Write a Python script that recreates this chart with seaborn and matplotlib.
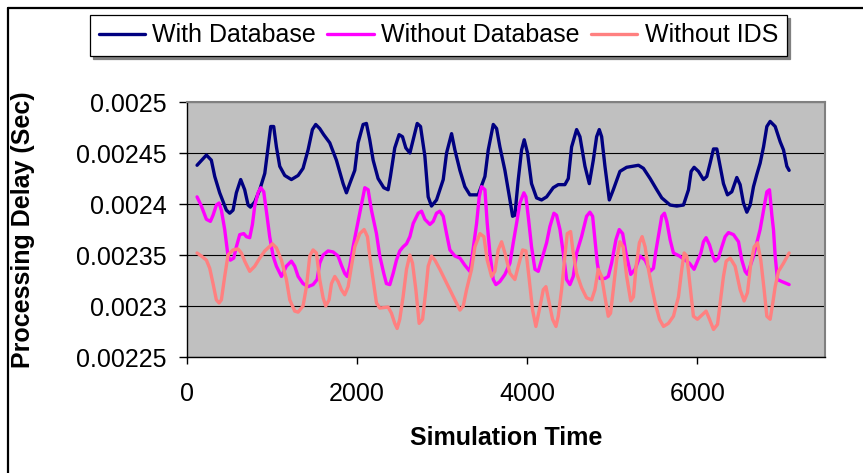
import numpy as np
import pandas as pd
import matplotlib
matplotlib.use('Agg')
import matplotlib.pyplot as plt
import matplotlib.transforms as mtransforms
from matplotlib.lines import Line2D
import seaborn as sns

# input data
with_db_time = [118, 228, 286, 326, 384, 463, 502, 541, 580, 631, 678, 718, 745, 796, 855, 914, 953, 984, 1019, 1051,
                1090, 1149, 1227, 1306, 1364, 1423, 1474, 1513, 1560, 1607, 1678, 1756, 1835, 1874, 1913, 1972, 2011, 2070, 2109, 2148,
                2188, 2246, 2313, 2364, 2391, 2442, 2493, 2533, 2572, 2620, 2706, 2745, 2796, 2835, 2874, 2933, 3012, 3051, 3110, 3149,
                3208, 3266, 3325, 3423, 3502, 3541, 3600, 3639, 3678, 3737, 3796, 3827, 3854, 3894, 3933, 3964, 4003, 4050, 4109, 4168,
                4227, 4305, 4364, 4442, 4482, 4521, 4580, 4619, 4678, 4729, 4776, 4815, 4846, 4874, 4913, 4964, 5011, 5089, 5168, 5307,
                5365, 5444, 5522, 5581, 5679, 5757, 5836, 5895, 5926, 5961, 6012, 6071, 6110, 6149, 6189, 6228, 6267, 6306, 6353, 6404,
                6463, 6502, 6541, 6581, 6620, 6659, 6698, 6737, 6777, 6816, 6855, 6914, 6973, 7012, 7051, 7078]
with_db_delay = [0.002438, 0.002448, 0.002443, 0.002427, 0.002411, 0.002394, 0.002391, 0.002394, 0.002411, 0.002424,
                 0.002414, 0.002399, 0.002397, 0.002402, 0.002414, 0.002430, 0.002456, 0.002476, 0.002476, 0.002456,
                 0.002437, 0.002428, 0.002424, 0.002428, 0.002435, 0.002453, 0.002473, 0.002478, 0.002474, 0.002468,
                 0.002460, 0.002443, 0.002420, 0.002411, 0.002420, 0.002433, 0.002460, 0.002478, 0.002479, 0.002463,
                 0.002443, 0.002425, 0.002416, 0.002414, 0.002427, 0.002455, 0.002468, 0.002466, 0.002455, 0.002450,
                 0.002479, 0.002476, 0.002447, 0.002407, 0.002398, 0.002404, 0.002424, 0.002450, 0.002469, 0.002453,
                 0.002433, 0.002417, 0.002409, 0.002409, 0.002427, 0.002453, 0.002478, 0.002474, 0.002456, 0.002433,
                 0.002404, 0.002388, 0.002389, 0.002424, 0.002453, 0.002463, 0.002450, 0.002420, 0.002406, 0.002404,
                 0.002407, 0.002416, 0.002419, 0.002419, 0.002425, 0.002456, 0.002473, 0.002466, 0.002437, 0.002420,
                 0.002443, 0.002466, 0.002473, 0.002466, 0.002437, 0.002404, 0.002414, 0.002432, 0.002436, 0.002438,
                 0.002435, 0.002425, 0.002414, 0.002406, 0.002399, 0.002398, 0.002399, 0.002414, 0.002432, 0.002436,
                 0.002432, 0.002424, 0.002427, 0.002440, 0.002454, 0.002454, 0.002437, 0.002420, 0.002409, 0.002412,
                 0.002426, 0.002419, 0.002401, 0.002392, 0.002399, 0.002417, 0.002429, 0.002440, 0.002456, 0.002476,
                 0.002481, 0.002476, 0.002461, 0.002453, 0.002437, 0.002433]

without_db_time = [118, 169, 228, 275, 306, 345, 377, 404, 443, 482, 510, 549, 580, 620, 667, 698, 737, 769, 796, 835,
                   867, 902, 941, 972, 1012, 1051, 1110, 1168, 1227, 1266, 1306, 1364, 1423, 1482, 1529, 1560, 1600, 1658, 1717, 1776,
                   1815, 1854, 1882, 1913, 1952, 1992, 2050, 2090, 2129, 2168, 2227, 2266, 2313, 2344, 2384, 2423, 2462, 2501, 2540, 2580,
                   2620, 2659, 2718, 2757, 2796, 2855, 2894, 2933, 2972, 3012, 3051, 3090, 3149, 3208, 3266, 3325, 3357, 3404, 3435, 3462,
                   3502, 3529, 3560, 3600, 3631, 3678, 3737, 3796, 3835, 3874, 3913, 3960, 3984, 4011, 4050, 4090, 4129, 4168, 4227, 4266,
                   4313, 4344, 4384, 4423, 4462, 4501, 4540, 4580, 4638, 4697, 4736, 4768, 4795, 4823, 4854, 4913, 4952, 4991, 5042, 5081,
                   5121, 5160, 5216, 5267, 5326, 5385, 5444, 5483, 5514, 5554, 5581, 5612, 5640, 5679, 5718, 5789, 5855, 5906, 5961, 6000,
                   6040, 6071, 6102, 6142, 6181, 6208, 6247, 6287, 6326, 6365, 6424, 6483, 6522, 6561, 6588, 6620, 6659, 6698, 6737, 6777,
                   6816, 6847, 6875, 6894, 6914, 6941, 6992, 7078]
without_db_delay = [0.002407, 0.002398, 0.002385, 0.002383, 0.002389, 0.002399, 0.002401, 0.002394, 0.002375, 0.002349,
                    0.002345, 0.002347, 0.002358, 0.002370, 0.002371, 0.002368, 0.002367, 0.002380, 0.002398, 0.002411,
                    0.002416, 0.002412, 0.002388, 0.002368, 0.002349, 0.002339, 0.002329, 0.002339, 0.002344, 0.002339,
                    0.002329, 0.002322, 0.002319, 0.002321, 0.002326, 0.002342, 0.002350, 0.002354, 0.002353, 0.002349,
                    0.002340, 0.002332, 0.002329, 0.002339, 0.002358, 0.002375, 0.002399, 0.002416, 0.002414, 0.002394,
                    0.002371, 0.002349, 0.002332, 0.002322, 0.002321, 0.002332, 0.002345, 0.002354, 0.002358, 0.002361,
                    0.002368, 0.002381, 0.002391, 0.002393, 0.002385, 0.002380, 0.002383, 0.002391, 0.002393, 0.002388,
                    0.002371, 0.002355, 0.002349, 0.002347, 0.002340, 0.002334, 0.002352, 0.002381, 0.002407, 0.002417,
                    0.002414, 0.002381, 0.002352, 0.002326, 0.002321, 0.002324, 0.002331, 0.002342, 0.002362, 0.002381,
                    0.002401, 0.002411, 0.002407, 0.002388, 0.002358, 0.002336, 0.002334, 0.002345, 0.002362, 0.002378,
                    0.002391, 0.002389, 0.002375, 0.002352, 0.002326, 0.002321, 0.002329, 0.002352, 0.002368, 0.002388,
                    0.002392, 0.002388, 0.002365, 0.002342, 0.002327, 0.002327, 0.002329, 0.002342, 0.002365, 0.002375,
                    0.002371, 0.002352, 0.002331, 0.002336, 0.002349, 0.002345, 0.002334, 0.002337, 0.002355, 0.002375,
                    0.002388, 0.002391, 0.002383, 0.002365, 0.002352, 0.002349, 0.002345, 0.002342, 0.002336, 0.002344,
                    0.002352, 0.002363, 0.002367, 0.002360, 0.002349, 0.002344, 0.002347, 0.002358, 0.002368, 0.002372,
                    0.002370, 0.002363, 0.002345, 0.002334, 0.002331, 0.002339, 0.002349, 0.002362, 0.002375, 0.002394,
                    0.002412, 0.002414, 0.002389, 0.002375, 0.002349, 0.002326, 0.002324, 0.002321]

without_ids_time = [118, 169, 228, 267, 306, 345, 377, 404, 443, 482, 541, 600, 639, 678, 737, 796, 855, 914, 965, 1004,
                    1051, 1110, 1168, 1208, 1266, 1306, 1364, 1404, 1443, 1482, 1521, 1560, 1600, 1631, 1670, 1698, 1737, 1776, 1815, 1854,
                    1894, 1933, 1972, 2031, 2082, 2121, 2148, 2188, 2227, 2266, 2364, 2403, 2442, 2470, 2501, 2540, 2580, 2619,
                    2651, 2690, 2729, 2769, 2808, 2835, 2874, 2914, 2972, 3031, 3090, 3149, 3208, 3247, 3286, 3345, 3384, 3443, 3490, 3529,
                    3580, 3619, 3658, 3698, 3737, 3796, 3854, 3894, 3945, 3984, 4023, 4062, 4101, 4141, 4188, 4219, 4258, 4297, 4337, 4364,
                    4403, 4442, 4470, 4509, 4540, 4580, 4638, 4697, 4756, 4795, 4834, 4874, 4913, 4952, 4979, 5011, 5050, 5089, 5128, 5168,
                    5216, 5248, 5279, 5318, 5350, 5385, 5424, 5463, 5503, 5554, 5601, 5659, 5718, 5777, 5816, 5844, 5875, 5914, 5953, 6000,
                    6051, 6102, 6142, 6189, 6236, 6267, 6306, 6338, 6385, 6443, 6502, 6549, 6588, 6628, 6667, 6706, 6745, 6784, 6816, 6855,
                    6886, 6914, 6953, 7012, 7078]
without_ids_delay = [0.002352, 0.002349, 0.002345, 0.002337, 0.002322, 0.002306, 0.002303, 0.002306, 0.002329, 0.002350,
                     0.002355, 0.002356, 0.002352, 0.002344, 0.002334, 0.002339, 0.002347, 0.002354, 0.002358, 0.002361,
                     0.002357, 0.002345, 0.002326, 0.002306, 0.002295, 0.002294, 0.002300, 0.002319, 0.002349, 0.002355,
                     0.002352, 0.002326, 0.002308, 0.002300, 0.002306, 0.002322, 0.002329, 0.002324, 0.002316, 0.002311,
                     0.002319, 0.002339, 0.002358, 0.002371, 0.002375, 0.002368, 0.002349, 0.002326, 0.002303, 0.002298,
                     0.002299, 0.002293, 0.002283, 0.002278, 0.002287, 0.002309, 0.002336, 0.002350,
                     0.002342, 0.002316, 0.002283, 0.002287, 0.002316, 0.002339, 0.002349, 0.002345, 0.002336, 0.002326,
                     0.002316, 0.002306, 0.002296, 0.002300, 0.002316, 0.002336, 0.002358, 0.002371, 0.002368, 0.002345,
                     0.002329, 0.002334, 0.002355, 0.002363, 0.002352, 0.002332, 0.002326, 0.002339, 0.002355, 0.002354,
                     0.002326, 0.002296, 0.002280, 0.002296, 0.002316, 0.002319, 0.002303, 0.002287, 0.002280, 0.002290,
                     0.002316, 0.002349, 0.002371, 0.002373, 0.002352, 0.002332, 0.002318, 0.002308, 0.002306, 0.002316,
                     0.002336, 0.002329, 0.002309, 0.002290, 0.002293, 0.002316, 0.002345, 0.002363, 0.002358, 0.002329,
                     0.002305, 0.002309, 0.002339, 0.002362, 0.002368, 0.002358, 0.002336, 0.002319, 0.002303, 0.002287,
                     0.002280, 0.002283, 0.002290, 0.002309, 0.002336, 0.002352, 0.002349, 0.002319, 0.002290, 0.002287,
                     0.002291, 0.002295, 0.002287, 0.002277, 0.002282, 0.002303, 0.002329, 0.002344, 0.002347, 0.002339,
                     0.002316, 0.002305, 0.002313, 0.002342, 0.002358, 0.002362, 0.002345, 0.002316, 0.002290, 0.002287,
                     0.002303, 0.002319, 0.002334, 0.002342, 0.002352]

series_names = ['With Database', 'Without Database', 'Without IDS']
series_colors = ['#000080', '#FF00FF', '#FF8080']

x_ticks = [0, 2000, 4000, 6000]
y_ticks = [0.00225, 0.0023, 0.00235, 0.0024, 0.00245, 0.0025]
y_tick_labels = ['0.00225', '0.0023', '0.00235', '0.0024', '0.00245', '0.0025']

frames = []
for name, t, d in zip(series_names,
                      [with_db_time, without_db_time, without_ids_time],
                      [with_db_delay, without_db_delay, without_ids_delay]):
    frames.append(pd.DataFrame({'Simulation Time': t, 'Delay': d, 'Series': name}))
data = pd.concat(frames, ignore_index=True)

sns.set_style('ticks')
plt.rcParams['font.family'] = ['Liberation Sans', 'DejaVu Sans']
plt.rcParams['text.color'] = 'black'
plt.rcParams['axes.labelcolor'] = 'black'
plt.rcParams['xtick.color'] = 'black'
plt.rcParams['ytick.color'] = 'black'

fig = plt.figure(figsize=(8.63, 4.73), dpi=100)
ax = fig.add_axes([0.2167, 0.2452, 0.7393, 0.5391])

sns.lineplot(data=data, x='Simulation Time', y='Delay', hue='Series', hue_order=series_names,
             palette=series_colors, linewidth=2.4, estimator=None, ax=ax,
             solid_joinstyle='round', solid_capstyle='round')

ax.set_facecolor('#C0C0C0')
ax.set_xlim(0, 7500)
ax.set_ylim(0.00225, 0.0025)
ax.set_xticks(x_ticks)
ax.set_xticklabels([str(v) for v in x_ticks])
ax.set_yticks(y_ticks)
ax.set_yticklabels(y_tick_labels)
ax.yaxis.grid(True, color='black', linewidth=0.8)
ax.xaxis.grid(False)
ax.set_axisbelow(True)

for side in ['left', 'bottom']:
    ax.spines[side].set_color('black')
    ax.spines[side].set_linewidth(1.0)
for side in ['top', 'right']:
    ax.spines[side].set_visible(True)
    ax.spines[side].set_color('#808080')
    ax.spines[side].set_linewidth(1.5)

ax.tick_params(axis='y', direction='out', length=6, width=1, color='black', labelcolor='black',
               labelsize=18, pad=8.5)
ax.tick_params(axis='x', direction='out', length=5, width=1, color='black', labelcolor='black',
               labelsize=18, pad=13)

ax.set_xlabel('Simulation Time', fontsize=18, fontweight='bold', color='black')
ax.set_ylabel('Processing Delay (Sec)', fontsize=18, fontweight='bold', color='black')
ax.xaxis.set_label_coords(0.5, 1 - 426 / 473,
                          transform=mtransforms.blended_transform_factory(ax.transAxes, fig.transFigure))
ax.yaxis.set_label_coords(35 / 863, 0.5,
                          transform=mtransforms.blended_transform_factory(fig.transFigure, ax.transAxes))

handles, labels = ax.get_legend_handles_labels()
ax.get_legend().remove()
leg = fig.legend(handles, labels, loc='center', bbox_to_anchor=(0.508, 0.925), ncol=3,
                 frameon=True, fancybox=False, edgecolor='black', framealpha=1,
                 shadow={'color': '#808080', 'alpha': 1}, fontsize=18,
                 handlelength=1.85, handletextpad=0.3, columnspacing=0.45, borderpad=0.35)
leg.get_frame().set_linewidth(0.9)
for txt in leg.get_texts():
    txt.set_color('black')

# chart area border (left and top edges visible in the crop)
fig.add_artist(Line2D([7.5 / 863, 7.5 / 863], [0, 1 - 8.5 / 473], color='black', linewidth=1.6,
                      transform=fig.transFigure))
fig.add_artist(Line2D([7.5 / 863, 1], [1 - 8.5 / 473, 1 - 8.5 / 473], color='black', linewidth=1.6,
                      transform=fig.transFigure))

fig.savefig('out.png', dpi=100)
